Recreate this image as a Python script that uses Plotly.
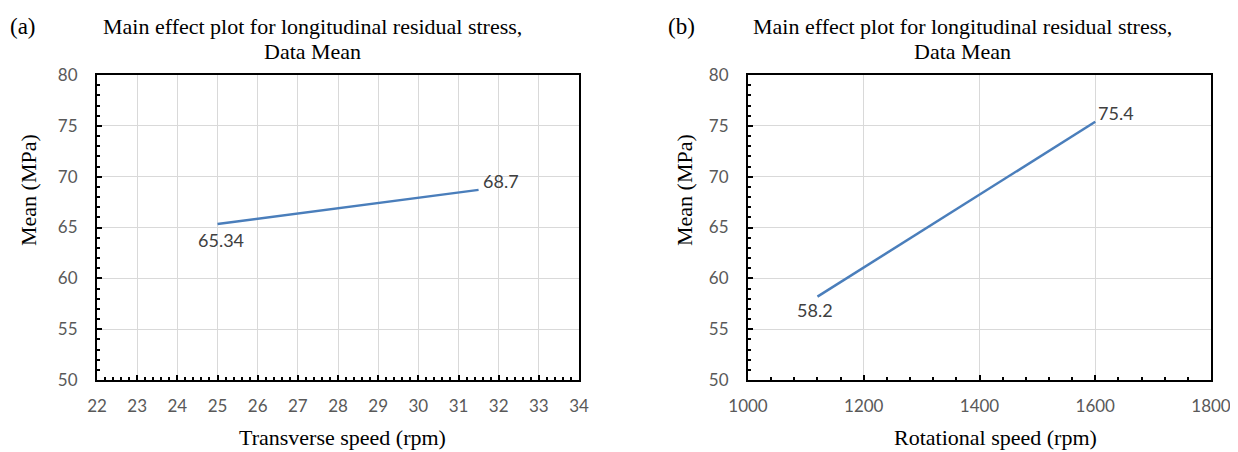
import plotly.graph_objects as go

# Data
transverse_speed = [25, 31.5]
transverse_mean = [65.34, 68.7]
transverse_labels = ["65.34", "68.7"]

rotational_speed = [1120, 1600]
rotational_mean = [58.2, 75.4]
rotational_labels = ["58.2", "75.4"]

title_line1 = "Main effect plot for longitudinal residual stress,"
title_line2 = "Data Mean"
y_title = "Mean (MPa)"
x_title_a = "Transverse speed (rpm)"
x_title_b = "Rotational speed (rpm)"

LINE_COLOR = "#4a7ebb"
SANS = "Lato, Open Sans, sans-serif"
TICK_FONT = dict(family=SANS, size=17, color="#595959")
LABEL_FONT = dict(family=SANS, size=18, color="#404040")
SERIF = "Liberation Serif, Times New Roman, serif"

# page body has an 8px margin: shrink the figure and offset all placements
OFF = 8
W, H = 1238 - OFF, 452 - OFF


def px(x):
    return (x - OFF) / W


def py(y):
    return 1 - (y - OFF) / H


fig = go.Figure()

fig.add_trace(go.Scatter(
    x=transverse_speed, y=transverse_mean, mode="lines",
    line=dict(color=LINE_COLOR, width=2.5), xaxis="x", yaxis="y",
    showlegend=False))

fig.add_trace(go.Scatter(
    x=rotational_speed, y=rotational_mean, mode="lines",
    line=dict(color=LINE_COLOR, width=2.5), xaxis="x2", yaxis="y2",
    showlegend=False))

common_axis = dict(showline=True, linecolor="black", linewidth=2, mirror=True,
                   showgrid=True, gridcolor="#d9d9d9", gridwidth=1,
                   ticks="inside", ticklen=5, tickwidth=1.5, tickcolor="black",
                   tickfont=TICK_FONT, zeroline=False, automargin=False)

ydom = [py(380), py(75)]

fig.update_layout(
    width=W, height=H, margin=dict(l=0, r=0, t=0, b=0),
    plot_bgcolor="white", paper_bgcolor="white",
    xaxis=dict(domain=[px(97), px(579)], range=[22, 34], dtick=1, anchor="y",
               minor=dict(ticks="inside", ticklen=3, dtick=0.2, tickcolor="black", showgrid=False),
               ticklabelstandoff=10, **common_axis),
    yaxis=dict(domain=ydom, range=[50, 80], dtick=5, anchor="x",
               minor=dict(ticks="inside", ticklen=3, dtick=1, tickcolor="black", showgrid=False),
               ticklabelstandoff=14, **common_axis),
    xaxis2=dict(domain=[px(748), px(1211)], range=[1000, 1800], dtick=200, anchor="y2",
                minor=dict(ticks="inside", ticklen=3, dtick=40, tickcolor="black", showgrid=False),
                ticklabelstandoff=10, **common_axis),
    yaxis2=dict(domain=ydom, range=[50, 80], dtick=5, anchor="x2",
                minor=dict(ticks="inside", ticklen=3, dtick=1, tickcolor="black", showgrid=False),
                ticklabelstandoff=14, **common_axis),
)

serif_font = dict(family=SERIF, size=22, color="black")
ann = []
for cx, tag, tagx, xt, xtc, ytx in [(312, "(a)", 8, x_title_a, 342, 28),
                                     (962, "(b)", 666, x_title_b, 995, 684)]:
    ann.append(dict(text=title_line1, x=px(cx), y=py(26), xanchor="center", yanchor="middle",
                    font=serif_font))
    ann.append(dict(text=title_line2, x=px(cx), y=py(51), xanchor="center", yanchor="middle",
                    font=serif_font))
    ann.append(dict(text=tag, x=px(tagx), y=py(26), xanchor="left", yanchor="middle",
                    font=dict(family=SERIF, size=23, color="black")))
    ann.append(dict(text=xt, x=px(xtc), y=py(437), xanchor="center", yanchor="middle",
                    font=serif_font))
    ann.append(dict(text=y_title, x=px(ytx), y=py(190), xanchor="center", yanchor="middle",
                    textangle=-90, font=serif_font))
for a in ann:
    a.update(xref="paper", yref="paper", showarrow=False)

# data labels attached to the data points
label_style = [  # (xanchor, xshift, yshift) for first and last point
    ("center", 3, -16), ("left", 2, 9)]
label_style_b = [("center", -2, -13), ("left", 1, 9)]
for xs, ys, labs, xr, yr, styles in [
        (transverse_speed, transverse_mean, transverse_labels, "x", "y", label_style),
        (rotational_speed, rotational_mean, rotational_labels, "x2", "y2", label_style_b)]:
    for xv, yv, lab, (xa, xsh, ysh) in zip(xs, ys, labs, styles):
        ann.append(dict(text=lab, x=xv, y=yv, xref=xr, yref=yr, showarrow=False,
                        xanchor=xa, yanchor="middle", xshift=xsh, yshift=ysh,
                        font=LABEL_FONT))

fig.update_layout(annotations=ann)

fig.write_html("out.html")
